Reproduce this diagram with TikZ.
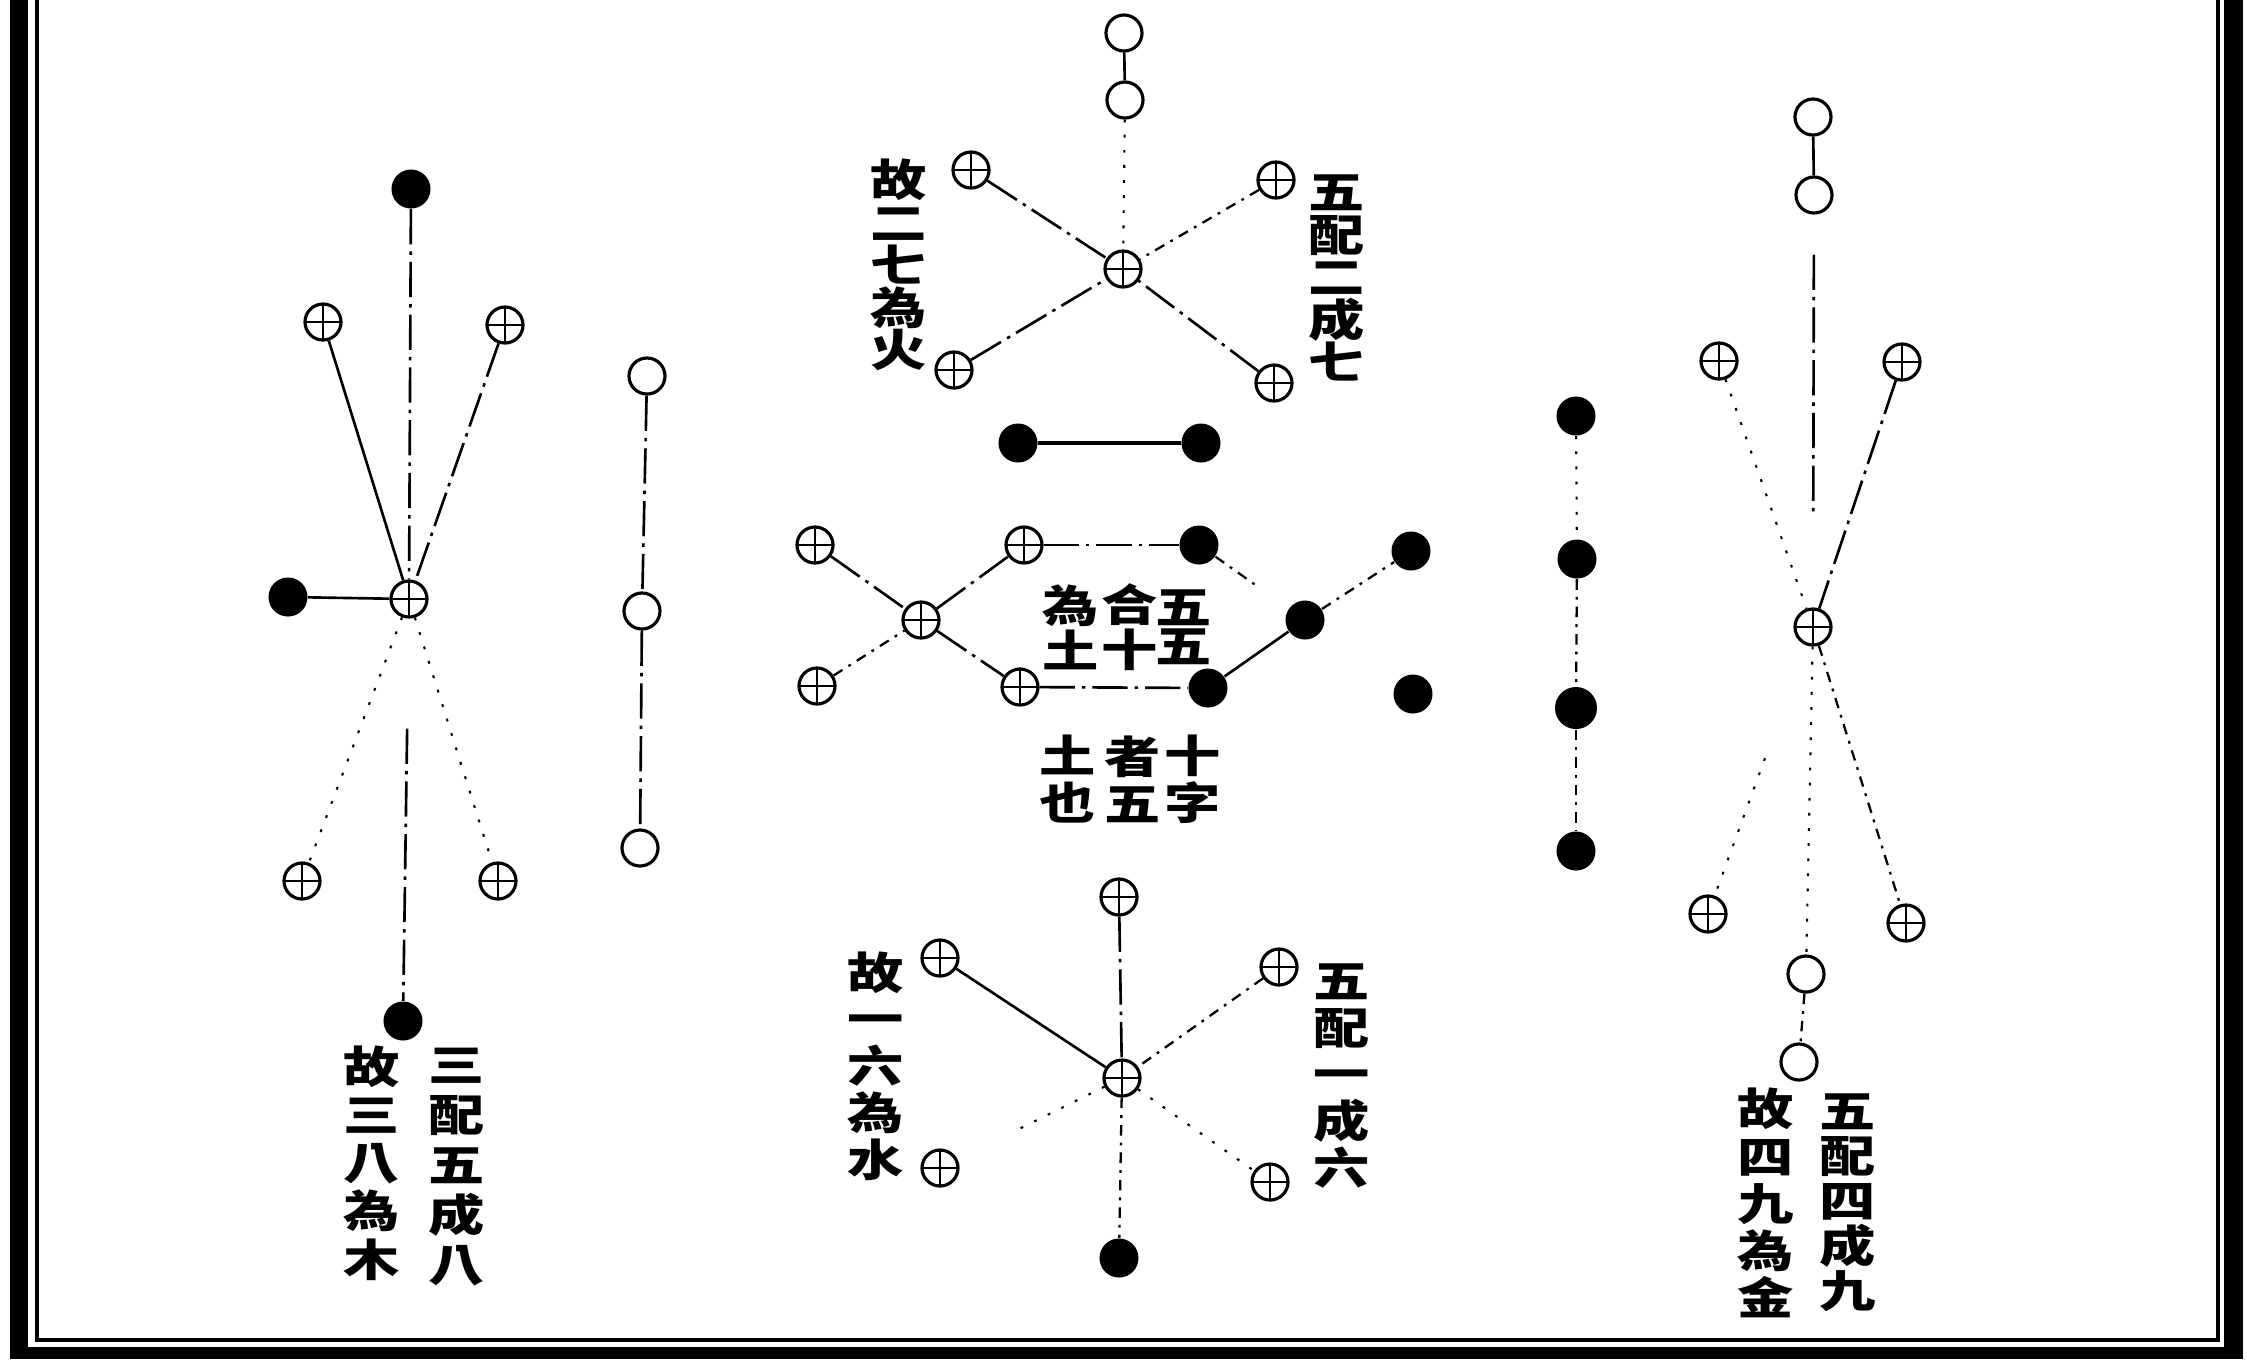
\documentclass[tikz,border=0pt]{standalone}
\usepackage{fontspec}
\newfontfamily\cjk{Noto Sans CJK TC}[FakeStretch=1.28]
\usepackage{tikz}
\usetikzlibrary{calc}

\begin{document}
\begin{tikzpicture}[x=0.01cm,y=-0.01cm,
  yang/.style={circle,draw,line width=0.9pt,minimum size=0.36cm,inner sep=0pt},
  cross/.style={yang,path picture={\draw[line width=0.8pt]
      (path picture bounding box.north)--(path picture bounding box.south)
      (path picture bounding box.west)--(path picture bounding box.east);}},
  yin/.style={circle,fill,minimum size=0.39cm,inner sep=0pt},
  ink/.style={line width=0.75pt},
  broken/.style={ink,dash pattern=on 10pt off 2pt on 1pt off 2pt},
  dashdot/.style={line width=0.65pt,dash pattern=on 3pt off 2pt on 0.8pt off 2pt},
  faint/.style={line width=0.6pt,dash pattern=on 0.8pt off 3.5pt},
  vtext/.style={font=\cjk\bfseries\fontsize{12.5pt}{#1}\selectfont,align=center,inner sep=0pt}]
  \useasboundingbox (0,0) rectangle (2247,1359);
  % frame
  \fill (10,0) rectangle (28,1359);
  \fill (2224,0) rectangle (2243,1359);
  \fill (10,1347) rectangle (2243,1359);
  \draw[line width=1.3pt] (37,0) -- (37,1340) -- (2218,1340) -- (2218,0);

  % wood: three and five make eight
  \node[cross] (wC) at (409,599) {};
  \node[yin] (wN) at (411,189) {};
  \node[cross] (wNW) at (323,322) {};
  \node[cross] (wNE) at (505,325) {};
  \node[yin] (wW) at (288,597) {};
  \node[cross] (wSW) at (302,881) {};
  \node[cross] (wSE) at (498,881) {};
  \node[yin] (wS) at (403,1021) {};
  \draw[broken] (wN) -- (wC);
  \draw[ink] (wNW) -- (wC);
  \draw[broken] (wNE) -- (wC);
  \draw[ink] (wW) -- (wC);
  \draw[faint] (wC) -- (wSW);
  \draw[faint] (wC) -- (wSE);
  \draw[broken,shorten <=1.1cm] (wC) -- (wS);
  \node[vtext=13.7pt] (wL) at (372,1163) {故\\三\\八\\為\\木};
  \node[vtext=14.2pt] (wR) at (457,1167) {三\\配\\五\\成\\八};

  % column of three
  \node[yang] (c1) at (647,376) {};
  \node[yang] (c2) at (642,611) {};
  \node[yang] (c3) at (640,848) {};
  \draw[broken] (c1) -- (c2);
  \draw[broken] (c2) -- (c3);

  % fire: five and two make seven
  \node[cross] (fC) at (1123,269) {};
  \node[yang] (fN1) at (1124,33) {};
  \node[yang] (fN2) at (1125,100) {};
  \node[cross] (fNW) at (971,170) {};
  \node[cross] (fNE) at (1276,180) {};
  \node[cross] (fSW) at (954,370) {};
  \node[cross] (fSE) at (1274,383) {};
  \draw[ink] (fN1) -- (fN2);
  \draw[faint] (fN2) -- (fC);
  \draw[broken] (fNW) -- (fC);
  \draw[dashdot] (fNE) -- (fC);
  \draw[broken] (fSW) -- (fC);
  \draw[broken] (fSE) -- (fC);
  \node[vtext=12.1pt] (fL) at (899,265) {故\\二\\七\\為\\火};
  \node[vtext=12.1pt] (fR) at (1337,278) {五\\配\\二\\成\\七};

  % earth: five and five make ten
  \node[yin] (eB1) at (1018,443) {};
  \node[yin] (eB2) at (1201,443) {};
  \node[cross] (eC) at (921,620) {};
  \node[cross] (eNW) at (815,545) {};
  \node[cross] (eSW) at (817,686) {};
  \node[cross] (eNM) at (1024,545) {};
  \node[cross] (eSM) at (1020,687) {};
  \node[yin] (eKN) at (1199,545) {};
  \node[yin] (eKS) at (1208,688) {};
  \node[yin] (eKM) at (1305,620) {};
  \node[yin] (eKNE) at (1411,551) {};
  \node[yin] (eKSE) at (1413,694) {};
  \draw[line width=1pt] (eB1) -- (eB2);
  \draw[broken] (eNW) -- (eC);
  \draw[dashdot] (eSW) -- (eC);
  \draw[broken] (eC) -- (eNM);
  \draw[broken] (eC) -- (eSM);
  \draw[broken] (eNM) -- (eKN);
  \draw[broken] (eSM) -- (eKS);
  \draw[dashdot,shorten >=0.39cm] (eKN) -- (eKM);
  \draw[ink] (eKS) -- (eKM);
  \draw[dashdot] (eKM) -- (eKNE);
  \node[vtext=11.1pt] (eT1) at (1184,627) {五\\五};
  \node[vtext=11.1pt] (eT2) at (1130,627) {合\\十};
  \node[vtext=11.1pt] (eT3) at (1071,627) {為\\土};
  \node[vtext=13.4pt] (eU1) at (1193,779) {十\\字};
  \node[vtext=13.4pt] (eU2) at (1133,779) {者\\五};
  \node[vtext=13.4pt] (eU3) at (1068,779) {土\\也};

  % column of four
  \node[yin] (k1) at (1576,416) {};
  \node[yin] (k2) at (1577,559) {};
  \node[yin,minimum size=0.42cm] (k3) at (1576,708) {};
  \node[yin] (k4) at (1576,851) {};
  \draw[faint] (k1) -- (k2);
  \draw[dashdot] (k2) -- (k3);
  \draw[dashdot] (k3) -- (k4);

  % water: five and one make six
  \node[cross] (aC) at (1122,1078) {};
  \node[cross] (aN) at (1119,897) {};
  \node[cross] (aNW) at (940,958) {};
  \node[cross] (aNE) at (1279,967) {};
  \node[cross] (aSW) at (940,1168) {};
  \node[cross] (aSE) at (1270,1182) {};
  \node[yin] (aS) at (1119,1258) {};
  \draw[broken] (aN) -- (aC);
  \draw[ink] (aNW) -- (aC);
  \draw[dashdot] (aNE) -- (aC);
  \draw[faint,shorten >=0.67cm] (aC) -- (aSW);
  \draw[faint] (aC) -- (aSE);
  \draw[dashdot] (aC) -- (aS);
  \node[vtext=13.3pt] (aL) at (876,1066) {故\\一\\六\\為\\水};
  \node[vtext=13.3pt] (aR) at (1342,1076) {五\\配\\一\\成\\六};

  % metal: five and four make nine
  \node[cross] (mC) at (1813,627) {};
  \node[yang] (mN1) at (1813,117) {};
  \node[yang] (mN2) at (1814,195) {};
  \node[cross] (mNW) at (1719,361) {};
  \node[cross] (mNE) at (1902,362) {};
  \node[cross] (mSW) at (1708,914) {};
  \node[cross] (mSE) at (1906,923) {};
  \node[yang] (mS1) at (1806,974) {};
  \node[yang] (mS2) at (1799,1062) {};
  \draw[ink] (mN1) -- (mN2);
  \draw[broken,shorten <=0.4cm,shorten >=0.9cm] (mN2) -- (mC);
  \draw[faint] (mNW) -- (mC);
  \draw[broken] (mNE) -- (mC);
  \draw[faint,shorten <=1.2cm] (mC) -- (mSW);
  \draw[dashdot] (mC) -- (mSE);
  \draw[faint] (mC) -- (mS1);
  \draw[dashdot] (mS1) -- (mS2);
  \node[vtext=13.4pt] (mL) at (1766,1203) {故\\四\\九\\為\\金};
  \node[vtext=12.8pt] (mR) at (1848,1203) {五\\配\\四\\成\\九};
\end{tikzpicture}
\end{document}
